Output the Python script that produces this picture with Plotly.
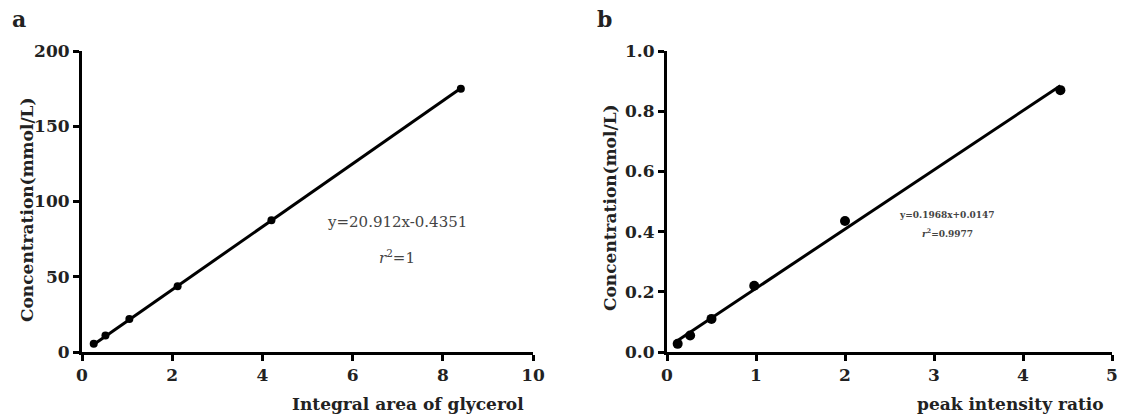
import plotly.graph_objects as go

# Panel a data
a_x = [0.26, 0.52, 1.05, 2.12, 4.2, 8.4]
a_y = [5.47, 10.9, 21.9, 43.75, 87.5, 175.0]
a_slope, a_intercept = 20.912, -0.4351
a_eq = "y=20.912x-0.4351"
a_r2 = "<i>r</i><sup>2</sup>=1"

# Panel b data
b_x = [0.12, 0.26, 0.5, 0.98, 2.0, 4.42]
b_y = [0.027, 0.055, 0.11, 0.22, 0.435, 0.87]
b_slope, b_intercept = 0.1968, 0.0147
b_eq = "y=0.1968x+0.0147"
b_r2 = "<i>r</i><sup>2</sup>=0.9977"

a_xticks = [0, 2, 4, 6, 8, 10]
a_yticks = [0, 50, 100, 150, 200]
b_xticks = [0, 1, 2, 3, 4, 5]
b_yticks = [0.0, 0.2, 0.4, 0.6, 0.8, 1.0]
b_yticklabels = ["0.0", "0.2", "0.4", "0.6", "0.8", "1.0"]

FONT = "DejaVu Serif, Liberation Serif, serif"

W, H = 1123, 416


def sx(X):
    return X / W


def sy(Y):
    return 1 - Y / H


fig = go.Figure()

a_lx = [min(a_x), max(a_x)]
fig.add_trace(go.Scatter(x=a_lx, y=[a_slope * v + a_intercept for v in a_lx], mode="lines",
                         line=dict(color="black", width=3), xaxis="x", yaxis="y", showlegend=False))
fig.add_trace(go.Scatter(x=a_x, y=a_y, mode="markers", marker=dict(color="black", size=8),
                         xaxis="x", yaxis="y", showlegend=False))

b_lx = [min(b_x), max(b_x)]
fig.add_trace(go.Scatter(x=b_lx, y=[b_slope * v + b_intercept for v in b_lx], mode="lines",
                         line=dict(color="black", width=3), xaxis="x2", yaxis="y2", showlegend=False))
fig.add_trace(go.Scatter(x=b_x, y=b_y, mode="markers", marker=dict(color="black", size=10),
                         xaxis="x2", yaxis="y2", showlegend=False))

axis_common = dict(showgrid=False, zeroline=False, showline=True, linecolor="black", linewidth=3,
                   ticks="outside", ticklen=6, tickwidth=3, tickcolor="black", automargin=False,
                   tickfont=dict(family=FONT, size=17, color="#222", weight="bold"))

ydom = [sy(352), sy(51)]

fig.update_layout(
    template="none",
    width=W, height=H,
    margin=dict(l=0, r=0, t=0, b=0, pad=0),
    paper_bgcolor="white", plot_bgcolor="white",
    xaxis=dict(domain=[sx(82), sx(533)], range=[0, 10], tickvals=a_xticks, anchor="y", **axis_common),
    yaxis=dict(domain=ydom, range=[0, 200], tickvals=a_yticks, anchor="x", **axis_common),
    xaxis2=dict(domain=[sx(667), sx(1112)], range=[0, 5], tickvals=b_xticks, anchor="y2", **axis_common),
    yaxis2=dict(domain=ydom, range=[0, 1.0], tickvals=b_yticks, ticktext=b_yticklabels, anchor="x2", **axis_common),
)


def ann(text, x, y, size, bold=True, angle=0, xanchor="center", color="#222"):
    t = f"<b>{text}</b>" if bold else text
    fig.add_annotation(text=t, x=sx(x), y=sy(y), xref="paper", yref="paper",
                       xanchor=xanchor, yanchor="middle", showarrow=False, textangle=angle,
                       font=dict(family=FONT, size=size, color=color))


ann("a", 19, 19, 22)
ann("b", 604, 19, 22)
ann("Concentration(mmol/L)", 27, 210, 17, angle=-90)
ann("Concentration(mol/L)", 610, 208, 17, angle=-90)
ann("Integral area of glycerol", 526, 404, 17, xanchor="right")
ann("peak intensity ratio", 1106, 404, 17, xanchor="right")
ann(a_eq, 397, 222, 15, bold=False, color="#444")
ann(a_r2, 397, 257, 15, bold=False, color="#444")
ann(b_eq, 947, 215, 9, color="#444")
ann(b_r2, 947, 233, 9, color="#444")

fig.write_html("out.html", config={"displayModeBar": False},
               post_script="document.body.style.margin='0';document.body.style.overflow='hidden';")
